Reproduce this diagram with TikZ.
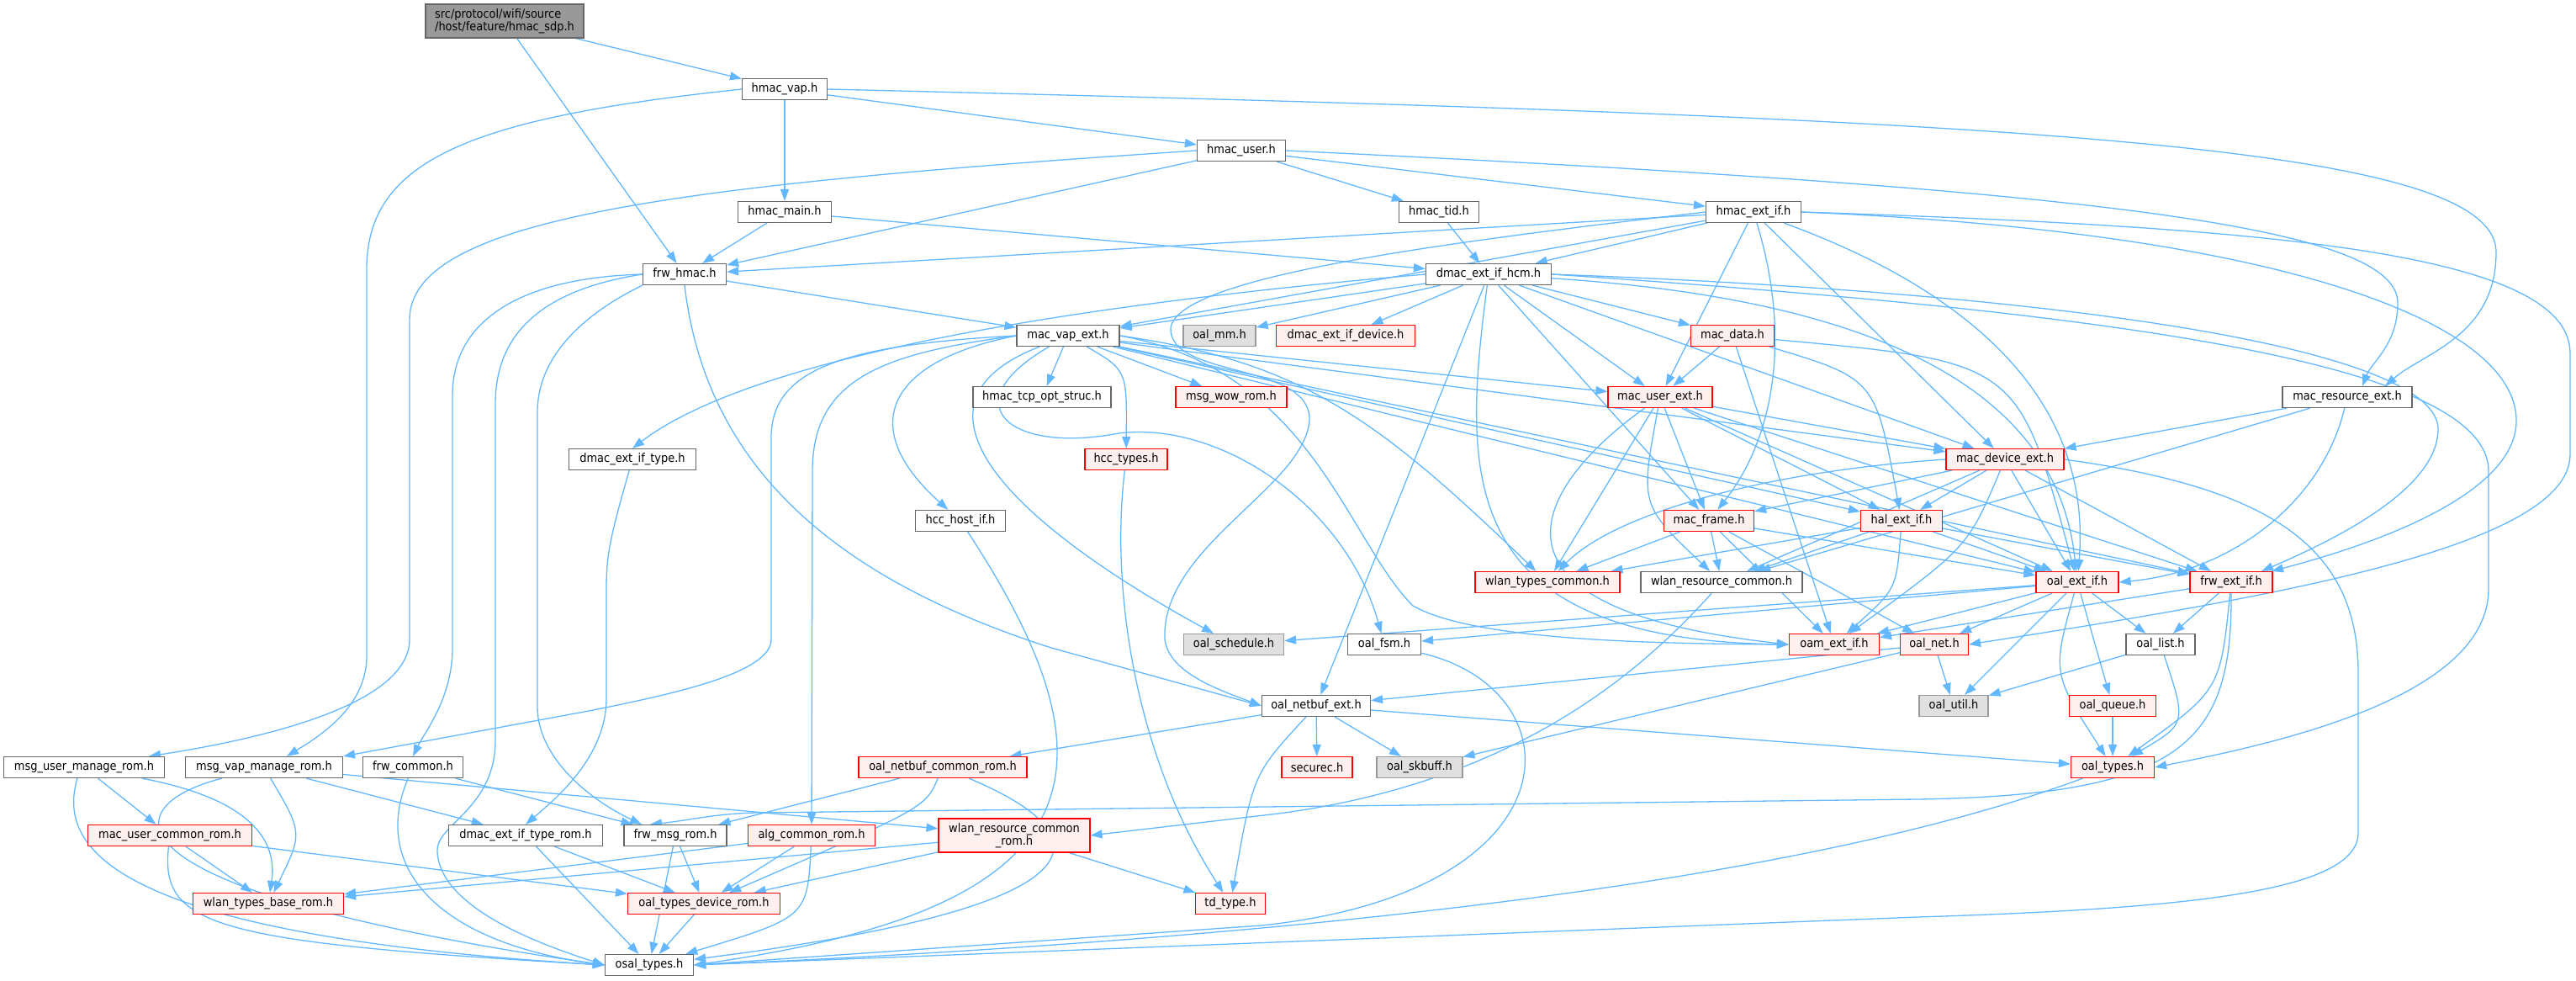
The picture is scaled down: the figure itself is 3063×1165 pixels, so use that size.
\documentclass[tikz,border=0pt]{standalone}
\usepackage{fontspec}
\setmainfont{DejaVu Sans Condensed}
\usetikzlibrary{arrows.meta}
\definecolor{edgeblue}{HTML}{63B8FF}
\definecolor{bordergray}{HTML}{666666}
\definecolor{rootfill}{HTML}{999999}
\definecolor{redfill}{HTML}{FFF0F0}
\definecolor{grayfill}{HTML}{E0E0E0}
\definecolor{grayborder}{HTML}{999999}
\pgfdeclarelayer{bg}
\pgfsetlayers{bg,main}
\begin{document}
\begin{tikzpicture}[x=1pt,y=-1pt]
\tikzstyle{hdr}=[rectangle,draw=bordergray,fill=white,line width=1.2pt,minimum height=25pt,inner sep=0pt,font=\fontsize{14.4}{15}\selectfont]
\tikzstyle{trunc}=[hdr,draw=red,fill=redfill]
\tikzstyle{nodoc}=[hdr,draw=grayborder,fill=grayfill]
\tikzstyle{root}=[hdr,fill=rootfill,minimum height=40pt,align=left]
\tikzstyle{inc}=[draw=edgeblue,line width=1.3pt,-{Triangle[length=14pt,width=10pt]}]

\useasboundingbox (0,0) rectangle (3063,1165);

% top rows
\node [root,minimum width=188pt] at (600,25) (sdp) {src/protocol/wifi/source\\/host/feature/hmac\_sdp.h};
\node [hdr,minimum width=101pt] at (933,106) (hvap) {hmac\_vap.h};
\node [hdr,minimum width=105pt] at (1476,179) (huser) {hmac\_user.h};
\node [hdr,minimum width=111pt] at (933,252) (hmain) {hmac\_main.h};
\node [hdr,minimum width=95pt] at (1711,252) (htid) {hmac\_tid.h};
\node [hdr,minimum width=113pt] at (2085,252) (hext) {hmac\_ext\_if.h};
\node [hdr,minimum width=99pt] at (814,326) (fhmac) {frw\_hmac.h};
\node [hdr,minimum width=149pt] at (1770,326) (dhcm) {dmac\_ext\_if\_hcm.h};

% middle rows
\node [hdr,minimum width=122pt] at (1270,399) (mvap) {mac\_vap\_ext.h};
\node [nodoc,minimum width=86pt] at (1450,399) (oalmm) {oal\_mm.h};
\node [trunc,minimum width=165pt] at (1600,399) (ddev) {dmac\_ext\_if\_device.h};
\node [trunc,minimum width=99pt] at (2060,399) (mdata) {mac\_data.h};
\node [hdr,minimum width=164pt] at (1239,472) (tcp) {hmac\_tcp\_opt\_struc.h};
\node [trunc,minimum width=132pt] at (1464,472) (wow) {msg\_wow\_rom.h};
\node [trunc,minimum width=124pt] at (1974,472) (muser) {mac\_user\_ext.h};
\node [hdr,minimum width=154pt] at (2791,472) (mres) {mac\_resource\_ext.h};
\node [hdr,minimum width=151pt] at (752,546) (dtype) {dmac\_ext\_if\_type.h};
\node [trunc,minimum width=98pt] at (1339,546) (hcct) {hcc\_types.h};
\node [trunc,minimum width=140pt] at (2384,546) (mdev) {mac\_device\_ext.h};
\node [hdr,minimum width=107pt] at (1142,619) (hcch) {hcc\_host\_if.h};
\node [trunc,minimum width=107pt] at (2032,619) (mframe) {mac\_frame.h};
\node [trunc,minimum width=97pt] at (2261,619) (hal) {hal\_ext\_if.h};
\node [trunc,minimum width=172pt] at (1840,692) (wtc) {wlan\_types\_common.h};
\node [hdr,minimum width=192pt] at (2047,692) (wrc) {wlan\_resource\_common.h};
\node [trunc,minimum width=98pt] at (2470,692) (oext) {oal\_ext\_if.h};
\node [trunc,minimum width=98pt] at (2653,692) (fext) {frw\_ext\_if.h};
\node [nodoc,minimum width=119pt] at (1467,766) (osch) {oal\_schedule.h};
\node [hdr,minimum width=87pt] at (1646,766) (ofsm) {oal\_fsm.h};
\node [trunc,minimum width=107pt] at (2181,766) (oam) {oam\_ext\_if.h};
\node [trunc,minimum width=81pt] at (2300,766) (onet) {oal\_net.h};
\node [hdr,minimum width=82pt] at (2569,766) (olist) {oal\_list.h};
\node [hdr,minimum width=129pt] at (1565,839) (onbe) {oal\_netbuf\_ext.h};
\node [nodoc,minimum width=82pt] at (2323,839) (outil) {oal\_util.h};
\node [trunc,minimum width=103pt] at (2512,839) (oqueue) {oal\_queue.h};

% bottom rows
\node [hdr,minimum width=191pt] at (100,912) (muserrom) {msg\_user\_manage\_rom.h};
\node [hdr,minimum width=187pt] at (314,912) (mvaprom) {msg\_vap\_manage\_rom.h};
\node [hdr,minimum width=119pt] at (491,912) (fcommon) {frw\_common.h};
\node [trunc,minimum width=200pt] at (1121,912) (onbcr) {oal\_netbuf\_common\_rom.h};
\node [trunc,minimum width=84pt] at (1566,912) (secure) {securec.h};
\node [nodoc,minimum width=102pt] at (1688,912) (skb) {oal\_skbuff.h};
\node [trunc,minimum width=99pt] at (2512,912) (otypes) {oal\_types.h};
\node [trunc,minimum width=195pt] at (202,993) (mucr) {mac\_user\_common\_rom.h};
\node [hdr,minimum width=183pt] at (625,993) (dtrom) {dmac\_ext\_if\_type\_rom.h};
\node [hdr,minimum width=122pt] at (803,993) (fmsg) {frw\_msg\_rom.h};
\node [trunc,minimum width=151pt] at (965,993) (algr) {alg\_common\_rom.h};
\node [trunc,minimum width=180pt,minimum height=40pt,align=center] at (1206,993) (wrcr) {wlan\_resource\_common\\\_rom.h};
\node [trunc,minimum width=179pt] at (319,1074) (wtbr) {wlan\_types\_base\_rom.h};
\node [trunc,minimum width=181pt] at (837,1074) (otdr) {oal\_types\_device\_rom.h};
\node [trunc,minimum width=83pt] at (1463,1074) (tdt) {td\_type.h};
\node [hdr,minimum width=105pt] at (772,1147) (osal) {osal\_types.h};

\begin{pgfonlayer}{bg}
% root and hmac headers
\draw[inc] (sdp) -- (hvap);
\draw[inc] (sdp) -- (fhmac);
\draw[inc] (hvap) -- (hmain);
\draw[inc] (hvap) -- (huser);
\draw[inc] (hvap.east) .. controls (2400,140) and (2968,170) .. (2968,300) .. controls (2968,400) and (2880,420) .. ([xshift=45pt]mres.north);
\draw[inc] (hvap.west) .. controls (560,140) and (436,190) .. (436,320) -- (436,780) .. controls (436,840) and (380,875) .. ([xshift=27pt]mvaprom.north);
\draw[inc] (huser) -- (fhmac);
\draw[inc] (huser) -- (htid);
\draw[inc] (huser) -- (hext);
\draw[inc] (huser.west) .. controls (800,220) and (487,260) .. (487,380) -- (487,760) .. controls (487,840) and (300,880) .. ([xshift=77pt]muserrom.north);
\draw[inc] (huser.east) .. controls (2500,225) and (2851,270) .. (2851,360) .. controls (2851,410) and (2820,430) .. ([xshift=18pt]mres.north);
\draw[inc] (hmain) -- (fhmac);
\draw[inc] (hmain) -- (dhcm);
\draw[inc] (htid) -- (dhcm);
\draw[inc] (hext) -- (fhmac);
\draw[inc] (hext) -- (dhcm);
\draw[inc] (hext) -- (mvap);
\draw[inc] (hext) -- (muser);
\draw[inc] (hext) .. controls (2130,400) and (2110,520) .. (mframe);
\draw[inc] (hext) -- (mdev);
\draw[inc] (hext) .. controls (2300,330) and (2490,450) .. (oext);
\draw[inc] (hext.east) .. controls (2700,275) and (2992,380) .. (2992,500) .. controls (2992,580) and (2850,640) .. ([xshift=48pt]fext.north);
\draw[inc] (hext.east) .. controls (2700,270) and (3056,300) .. (3056,420) -- (3056,540) .. controls (3056,650) and (2700,710) .. (onet.east);
\draw[inc] (hext.west) .. controls (1700,290) and (1400,330) .. (1392,390) .. controls (1390,450) and (1560,430) .. (1557,500) .. controls (1550,580) and (1380,650) .. (1385,760) .. controls (1390,800) and (1450,820) .. (onbe.west);

% frw_hmac
\draw[inc] (fhmac) -- (mvap);
\draw[inc] (fhmac.west) .. controls (620,330) and (538,380) .. (538,470) -- (538,770) .. controls (538,830) and (505,870) .. (fcommon.north);
\draw[inc] (fhmac.west) .. controls (640,345) and (589,400) .. (589,480) -- (589,880) .. controls (589,960) and (520,980) .. (520,1010) .. controls (520,1080) and (650,1125) .. (osal.west);
\draw[inc] (fhmac.south west) .. controls (700,370) and (639,420) .. (639,490) -- (639,840) .. controls (639,900) and (700,950) .. ([xshift=-40pt]fmsg.north);
\draw[inc] (fhmac.south) .. controls (840,560) and (1000,690) .. (1250,770) -- (onbe.west);

% dmac_ext_if_hcm
\draw[inc] (dhcm) -- (mvap);
\draw[inc] (dhcm) -- (oalmm);
\draw[inc] (dhcm) -- (ddev);
\draw[inc] (dhcm) -- (mdata);
\draw[inc] (dhcm) -- (muser);
\draw[inc] (dhcm) -- (mframe);
\draw[inc] (dhcm) .. controls (1740,560) and (1725,760) .. (oam.west);
\draw[inc] (dhcm) -- (onbe);
\draw[inc] (dhcm.west) .. controls (1300,360) and (900,420) .. (dtype.north);
\draw[inc] (dhcm) -- (mdev);
\draw[inc] (dhcm) .. controls (2300,360) and (2450,500) .. (oext);
\draw[inc] (dhcm.east) .. controls (2500,350) and (2899,420) .. (2899,510) .. controls (2899,580) and (2780,640) .. ([xshift=36pt]fext.north);
\draw[inc] (dhcm.east) .. controls (2500,370) and (2959,430) .. (2959,560) -- (2959,700) .. controls (2959,830) and (2700,885) .. (otypes.east);

% mac_vap_ext
\draw[inc] (mvap) -- (tcp);
\draw[inc] (mvap) -- (wow);
\draw[inc] (mvap) .. controls (1340,440) .. (hcct);
\draw[inc] (mvap.west) .. controls (1050,430) and (1020,510) .. (hcch);
\draw[inc] (mvap) .. controls (1060,480) and (1200,620) .. (osch);
\draw[inc] (mvap) .. controls (1130,480) and (1200,540) .. (1330,515) .. controls (1450,500) and (1600,600) .. (ofsm);
\draw[inc] (mvap.west) .. controls (1050,420) and (966,450) .. (966,560) -- (algr);
\draw[inc] (mvap.west) .. controls (1000,410) and (917,440) .. (917,520) -- (917,760) .. controls (917,800) and (800,825) .. (700,845) -- (mvaprom.north east);
\draw[inc] (mvap) -- (muser);
\draw[inc] (mvap) -- (mdev);
\draw[inc] (mvap) -- (hal);
\draw[inc] (mvap.east) .. controls (1550,430) and (1640,500) .. (wtc);
\draw[inc] (mvap) -- (oext);
\draw[inc] (mvap) -- (fext);
\draw[inc] (mvap.east) .. controls (1560,440) and (1600,640) .. (1680,720) .. controls (1750,760) and (1950,765) .. (oam.west);

% mac_data, mac_user_ext, mac_resource_ext
\draw[inc] (mdata) -- (muser);
\draw[inc] (mdata) -- (oam);
\draw[inc] (mdata) .. controls (2230,450) .. (hal);
\draw[inc] (mdata) .. controls (2400,430) .. (oext);
\draw[inc] (muser) -- (mframe);
\draw[inc] (muser) -- (wtc);
\draw[inc] (muser) .. controls (1950,600) .. (wrc);
\draw[inc] (muser) -- (hal);
\draw[inc] (muser) -- (mdev);
\draw[inc] (muser) -- (oext);
\draw[inc] (muser) -- (fext);
\draw[inc] (muser) .. controls (1850,560) and (1710,720) .. (oam.west);
\draw[inc] (mres) -- (mdev);
\draw[inc] (mres) .. controls (2760,600) and (2650,680) .. (oext.east);
\draw[inc] (mres) -- (wrc);

% mac_device_ext, hal_ext_if, mac_frame
\draw[inc] (mdev) -- (hal);
\draw[inc] (mdev) -- (mframe);
\draw[inc] (mdev.west) .. controls (2100,560) and (1920,610) .. (wtc);
\draw[inc] (mdev) -- (wrc);
\draw[inc] (mdev) .. controls (2340,650) .. (oam);
\draw[inc] (mdev) -- (oext);
\draw[inc] (mdev) -- (fext);
\draw[inc] (mdev.east) .. controls (2700,580) and (2804,650) .. (2804,800) -- (2804,990) .. controls (2804,1060) and (2600,1080) .. (2280,1090) -- (osal.east);
\draw[inc] (hal) -- (wtc);
\draw[inc] (hal) -- (wrc);
\draw[inc] (hal) .. controls (2255,700) .. (oam);
\draw[inc] (hal) -- (oext);
\draw[inc] (hal) -- (fext);
\draw[inc] (mframe) -- (wtc);
\draw[inc] (mframe) -- (wrc);
\draw[inc] (mframe) -- (oam);
\draw[inc] (mframe) -- (onet);
\draw[inc] (mframe) -- (oext);
\draw[inc] (wrc) .. controls (1950,800) and (1800,930) .. (1520,967) -- (wrcr.east);

% oal and frw headers
\draw[inc] (oext) -- (osch);
\draw[inc] (oext) -- (ofsm);
\draw[inc] (oext) -- (onet);
\draw[inc] (oext) -- (outil);
\draw[inc] (oext) .. controls (2440,800) .. (otypes);
\draw[inc] (oext) -- (oqueue);
\draw[inc] (oext) -- (olist);
\draw[inc] (oext) -- (oam);
\draw[inc] (fext) -- (olist);
\draw[inc] (fext) .. controls (2640,820) .. (otypes);
\draw[inc] (fext) -- (oam);
\draw[inc] (fext.south) .. controls (2654,880) and (2600,945) .. (2280,950) -- (900,966) .. controls (850,967) and (820,975) .. ([xshift=-30pt]fmsg.north);
\draw[inc] (olist) -- (outil);
\draw[inc] (olist) .. controls (2600,860) .. (otypes);
\draw[inc] (oqueue) -- (otypes);
\draw[inc] (onet) -- (outil);
\draw[inc] (onet) -- (onbe);
\draw[inc] (onet) -- (skb);
\draw[inc] (onbe) -- (onbcr);
\draw[inc] (onbe) -- (secure);
\draw[inc] (onbe) -- (skb);
\draw[inc] (onbe) .. controls (1490,920) .. (tdt);
\draw[inc] (onbe) -- (otypes);
\draw[inc] (hcct) .. controls (1320,700) and (1350,900) .. (tdt);
\draw[inc] (hcch) .. controls (1340,920) and (1300,1080) .. (osal.east);
\draw[inc] (ofsm) .. controls (1878,820) and (1878,1060) .. (1500,1100) -- (osal.east);
\draw[inc] (otypes) .. controls (2300,990) and (1900,1100) .. (osal.east);

% rom headers
\draw[inc] (muserrom) -- (mucr);
\draw[inc] (muserrom) .. controls (300,950) and (330,1000) .. (wtbr);
\draw[inc] ([xshift=-8pt]muserrom.south) .. controls (70,1000) and (110,1110) .. (osal.west);
\draw[inc] (mvaprom) .. controls (130,960) and (120,1060) .. (osal.west);
\draw[inc] (mvaprom) .. controls (360,990) .. (wtbr);
\draw[inc] (mvaprom) -- (dtrom);
\draw[inc] (mvaprom) -- (wrcr);
\draw[inc] (fcommon) -- (fmsg);
\draw[inc] (fcommon) .. controls (440,1030) and (520,1120) .. (osal.west);
\draw[inc] (dtype) .. controls (725,640) and (721,660) .. (721,700) -- (721,830) .. controls (721,900) and (660,950) .. (dtrom.north);
\draw[inc] (mucr) -- (wtbr);
\draw[inc] (mucr) .. controls (190,1100) and (250,1120) .. (osal.west);
\draw[inc] (mucr) -- (otdr);
\draw[inc] (dtrom) -- (osal);
\draw[inc] (dtrom) -- (otdr);
\draw[inc] (fmsg) -- (osal);
\draw[inc] (fmsg) -- (otdr);
\draw[inc] (algr) -- (wtbr);
\draw[inc] (algr) -- (otdr);
\draw[inc] (algr) .. controls (960,1090) .. (osal);
\draw[inc] (wrcr) -- (wtbr);
\draw[inc] (wrcr) -- (otdr);
\draw[inc] (wrcr) -- (tdt);
\draw[inc] (onbcr) -- (fmsg);
\draw[inc] (onbcr) .. controls (1100,960) .. (otdr);
\draw[inc] (onbcr) .. controls (1330,1000) and (1300,1080) .. (osal);
\draw[inc] (otdr) -- (osal);
\end{pgfonlayer}
\end{tikzpicture}
\end{document}
